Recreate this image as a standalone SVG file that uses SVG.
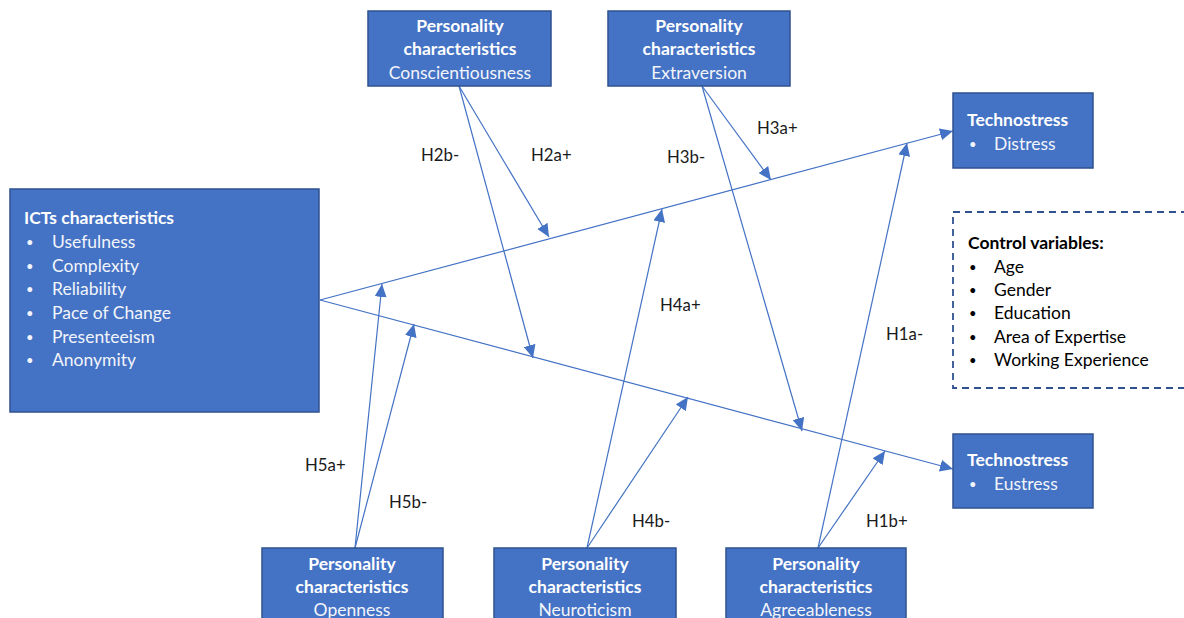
<svg xmlns="http://www.w3.org/2000/svg" width="1184" height="618" viewBox="0 0 1184 618">
<style>
.box{fill:#4472C4;stroke:#2F528F;stroke-width:1.5}
.dash{fill:none;stroke:#2F528F;stroke-width:1.8;stroke-dasharray:7,5}
text{font-family:Lato,"Liberation Sans",sans-serif;font-size:17.5px}
.b{font-weight:bold;fill:#ffffff}
.w{fill:#f2f5fb}
.k{fill:#000000}
.kb{fill:#000000;font-weight:bold}
.c{text-anchor:middle}
.bu{font-size:13px}
.lbl{fill:#1a1a1a;font-size:16.8px}
.ln{stroke:#4472C4;stroke-width:1.2;fill:none;marker-end:url(#ah)}
</style>
<defs>
<marker id="ah" markerUnits="userSpaceOnUse" markerWidth="14" markerHeight="12" refX="13" refY="6" orient="auto">
<path d="M0,0 L13,6 L0,12 Z" fill="#4472C4"/>
</marker>
</defs>

<g id="connectors">
<line class="ln" x1="320" y1="300" x2="953" y2="131"/>
<line class="ln" x1="320" y1="300" x2="953" y2="469"/>
<line class="ln" x1="459" y1="86" x2="549" y2="237"/>
<line class="ln" x1="459" y1="86" x2="533" y2="358"/>
<line class="ln" x1="702" y1="86" x2="771" y2="180"/>
<line class="ln" x1="702" y1="86" x2="802" y2="431"/>
<line class="ln" x1="587" y1="548" x2="662" y2="209"/>
<line class="ln" x1="587" y1="548" x2="688" y2="397"/>
<line class="ln" x1="818" y1="548" x2="907" y2="143"/>
<line class="ln" x1="818" y1="548" x2="885" y2="451"/>
<line class="ln" x1="355" y1="548" x2="382" y2="284"/>
<line class="ln" x1="355" y1="548" x2="414" y2="324"/>
</g>

<g id="labels">
<text class="lbl" x="421" y="161">H2b-</text>
<text class="lbl" x="531" y="161">H2a+</text>
<text class="lbl" x="667" y="163">H3b-</text>
<text class="lbl" x="757" y="134">H3a+</text>
<text class="lbl" x="660" y="311">H4a+</text>
<text class="lbl" x="886" y="340">H1a-</text>
<text class="lbl" x="305" y="471">H5a+</text>
<text class="lbl" x="389" y="508">H5b-</text>
<text class="lbl" x="632" y="527">H4b-</text>
<text class="lbl" x="866" y="527">H1b+</text>
</g>

<g id="conscientiousness">
<rect class="box" x="368" y="11" width="183" height="75"/>
<text class="b c" x="460" y="32">Personality</text>
<text class="b c" x="460" y="55">characteristics</text>
<text class="w c" x="460" y="79">Conscientiousness</text>
</g>

<g id="extraversion">
<rect class="box" x="608" y="11" width="182" height="75"/>
<text class="b c" x="699" y="32">Personality</text>
<text class="b c" x="699" y="55">characteristics</text>
<text class="w c" x="699" y="79">Extraversion</text>
</g>

<g id="icts">
<rect class="box" x="10" y="189" width="309" height="223"/>
<text class="b" x="24" y="224">ICTs characteristics</text>
<text class="w bu" x="26" y="247">•</text><text class="w" x="52" y="248">Usefulness</text>
<text class="w bu" x="26" y="271">•</text><text class="w" x="52" y="272">Complexity</text>
<text class="w bu" x="26" y="294">•</text><text class="w" x="52" y="295">Reliability</text>
<text class="w bu" x="26" y="318">•</text><text class="w" x="52" y="319">Pace of Change</text>
<text class="w bu" x="26" y="342">•</text><text class="w" x="52" y="343">Presenteeism</text>
<text class="w bu" x="26" y="365">•</text><text class="w" x="52" y="366">Anonymity</text>
</g>

<g id="distress">
<rect class="box" x="953" y="93" width="140" height="75"/>
<text class="b" x="967" y="126">Technostress</text>
<text class="w bu" x="969" y="149">•</text><text class="w" x="994" y="150">Distress</text>
</g>

<g id="controls">
<rect class="dash" x="953" y="212" width="250" height="176"/>
<text class="kb" x="968" y="249">Control variables:</text>
<text class="k bu" x="969" y="272">•</text><text class="k" x="994" y="273">Age</text>
<text class="k bu" x="969" y="295">•</text><text class="k" x="994" y="296">Gender</text>
<text class="k bu" x="969" y="318">•</text><text class="k" x="994" y="319">Education</text>
<text class="k bu" x="969" y="342">•</text><text class="k" x="994" y="343">Area of Expertise</text>
<text class="k bu" x="969" y="365">•</text><text class="k" x="994" y="366">Working Experience</text>
</g>

<g id="eustress">
<rect class="box" x="953" y="434" width="140" height="74"/>
<text class="b" x="967" y="466">Technostress</text>
<text class="w bu" x="969" y="489">•</text><text class="w" x="994" y="490">Eustress</text>
</g>

<g id="openness">
<rect class="box" x="262" y="548" width="181" height="80"/>
<text class="b c" x="352" y="570">Personality</text>
<text class="b c" x="352" y="593">characteristics</text>
<text class="w c" x="352" y="616">Openness</text>
</g>

<g id="neuroticism">
<rect class="box" x="494" y="548" width="182" height="80"/>
<text class="b c" x="585" y="570">Personality</text>
<text class="b c" x="585" y="593">characteristics</text>
<text class="w c" x="585" y="616">Neuroticism</text>
</g>

<g id="agreeableness">
<rect class="box" x="726" y="548" width="180" height="80"/>
<text class="b c" x="816" y="570">Personality</text>
<text class="b c" x="816" y="593">characteristics</text>
<text class="w c" x="816" y="616">Agreeableness</text>
</g>
</svg>
